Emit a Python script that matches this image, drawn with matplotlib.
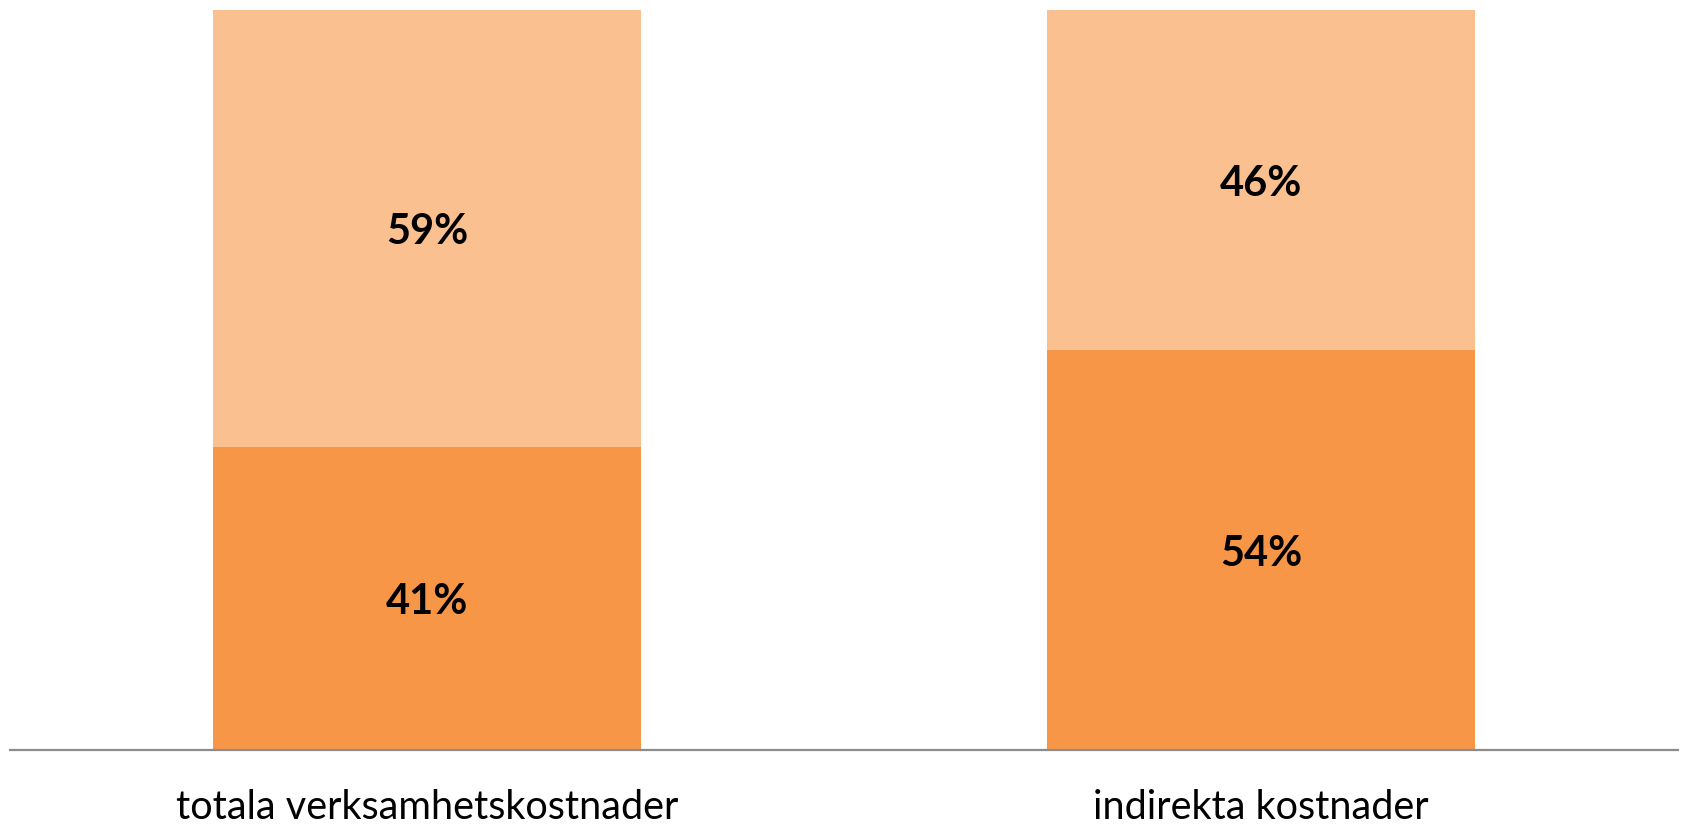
import matplotlib
matplotlib.use("Agg")
import matplotlib.pyplot as plt

categories = ["totala verksamhetskostnader", "indirekta kostnader"]
lower_values = [0.41, 0.54]
upper_values = [0.59, 0.46]

W, H = 1683, 824
fig = plt.figure(figsize=(W / 100, H / 100), dpi=100)
ax = fig.add_axes([10 / W, (H - 750) / H, 1668 / W, 740 / H])

x = range(len(categories))
c_low = "#F79646"
c_up = "#FAC090"
bars_low = ax.bar(x, lower_values, width=0.513, color=c_low, edgecolor="none")
bars_up = ax.bar(x, upper_values, width=0.513, bottom=lower_values, color=c_up, edgecolor="none")

font = ["Lato", "DejaVu Sans"]
for bars, vals in ((bars_low, lower_values), (bars_up, upper_values)):
    for b, v in zip(bars, vals):
        ax.text(b.get_x() + b.get_width() / 2, b.get_y() + b.get_height() / 2, f"{round(v*100)}%",
                ha="center", va="center_baseline", fontsize=30, fontweight="bold",
                family=font, color="black")

ax.set_xlim(-0.5, 1.5)
ax.set_ylim(0, 1)
ax.set_xticks(list(x))
ax.set_xticklabels(categories, fontsize=28.5, family=font)
ax.tick_params(axis="x", length=0, pad=28)
ax.set_yticks([])
for s in ["top", "left", "right"]:
    ax.spines[s].set_visible(False)
ax.spines["bottom"].set_color("#8C8C8C")
ax.spines["bottom"].set_linewidth(1.6)

fig.savefig("out.png", dpi=100)
